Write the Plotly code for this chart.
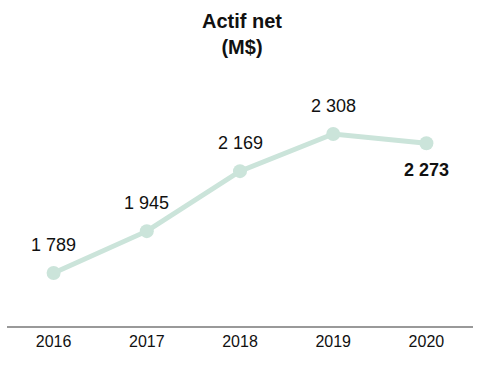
import plotly.graph_objects as go

years = ["2016", "2017", "2018", "2019", "2020"]
net_assets = [1789, 1945, 2169, 2308, 2273]
labels = ["1 789", "1 945", "2 169", "2 308", "2 273"]
label_bold = [False, False, False, False, True]
label_below = [False, False, False, False, True]

LINE = "#cbe4da"
FONT = "Liberation Sans, Arial, sans-serif"

fig = go.Figure()
fig.add_trace(go.Scatter(
    x=years, y=net_assets, mode="lines+markers",
    line=dict(color=LINE, width=5),
    marker=dict(color=LINE, size=14),
    hoverinfo="skip",
))

# category positions by index (numeric-looking category names confuse annotation range checks)
for i, (y, t, b, below) in enumerate(zip(net_assets, labels, label_bold, label_below)):
    fig.add_annotation(
        x=i, y=y, xref="x", yref="y", text=f"<b>{t}</b>" if b else t,
        showarrow=False, yshift=-27 if below else 28,
        font=dict(family=FONT, size=18, color="#111111"),
    )

fig.add_annotation(
    xref="paper", yref="paper", x=0.504, y=1.098,
    xanchor="center", yanchor="middle", showarrow=False,
    text="<b>Actif net<br>(M$)</b>",
    font=dict(family=FONT, size=20, color="#111111"),
)

fig.update_layout(
    width=503, height=386,
    margin=dict(l=7, r=30, t=60, b=60),
    paper_bgcolor="white", plot_bgcolor="white",
    showlegend=False,
    xaxis=dict(
        type="category", range=[-0.5, 4.5],
        showline=True, linecolor="#999999", linewidth=2,
        showgrid=False, zeroline=False, ticks="",
        tickfont=dict(family=FONT, size=16, color="#111111"),
    ),
    yaxis=dict(
        range=[1591, 2584], showticklabels=False, showline=False,
        showgrid=False, zeroline=False, ticks="",
    ),
)

fig.write_html("out.html", config={"displayModeBar": False},
               post_script="document.body.style.margin='0px';")
